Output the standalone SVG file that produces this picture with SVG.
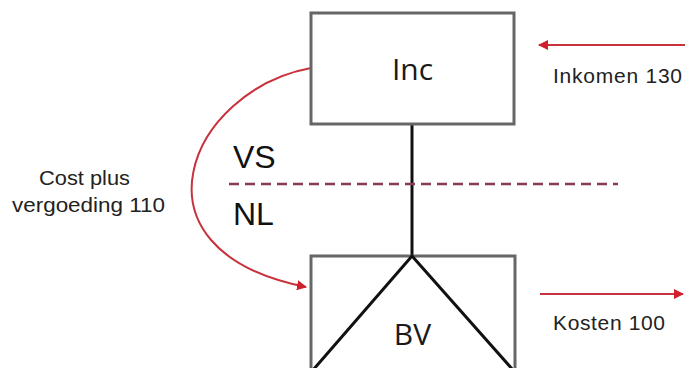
<svg xmlns="http://www.w3.org/2000/svg" width="685" height="368" viewBox="0 0 685 368">
<style>
.box{fill:#fff;stroke:#666;stroke-width:3}
.lbl{font-family:"Open Sans","Liberation Sans",sans-serif;fill:#1a1a1a}
.big{font-family:"Liberation Sans",Arial,sans-serif;font-size:32px;fill:#111}
.sm{font-family:"Liberation Sans",Arial,sans-serif;font-size:21px;fill:#222}
.red{fill:none;stroke:#c8323c;stroke-width:2}
</style>
<defs>
<marker id="ah" viewBox="0 0 10 10" refX="9" refY="5" markerWidth="5" markerHeight="5" orient="auto-start-reverse" markerUnits="strokeWidth">
<path d="M0,0 L10,5 L0,10 z" fill="#d0202c"/>
</marker>
</defs>
<rect width="685" height="368" fill="#fff"/>
<g id="connectors">
<line x1="412" y1="124" x2="412" y2="256" stroke="#111" stroke-width="3"/>
<line x1="229" y1="184" x2="618" y2="184" stroke="#8b3b4f" stroke-width="2.5" stroke-dasharray="10,6"/>
<path class="red" d="M311,68 C190,90 120,250 306,287" marker-end="url(#ah)"/>
<line class="red" x1="685" y1="45" x2="539" y2="45" marker-end="url(#ah)"/>
<line class="red" x1="540" y1="294" x2="683" y2="294" marker-end="url(#ah)"/>
</g>
<g id="inc">
<rect class="box" x="311" y="13" width="203" height="111"/>
<text class="lbl" x="412.5" y="80" font-size="30" text-anchor="middle">Inc</text>
</g>
<g id="bv">
<rect class="box" x="311" y="256" width="204" height="120"/>
<path d="M313,370 L412,256 L513,370" fill="none" stroke="#111" stroke-width="3"/>
<text class="lbl" x="412.5" y="345" font-size="30" text-anchor="middle">BV</text>
</g>
<g id="labels">
<text class="big" x="233" y="168">VS</text>
<text class="big" x="233" y="225">NL</text>
<text class="sm" x="39" y="185" textLength="91" lengthAdjust="spacingAndGlyphs">Cost plus</text>
<text class="sm" x="12" y="212" textLength="153" lengthAdjust="spacingAndGlyphs">vergoeding 110</text>
<text class="sm" x="553" y="83" textLength="129" lengthAdjust="spacing">Inkomen 130</text>
<text class="sm" x="553" y="330" textLength="112" lengthAdjust="spacing">Kosten 100</text>
</g>
</svg>
